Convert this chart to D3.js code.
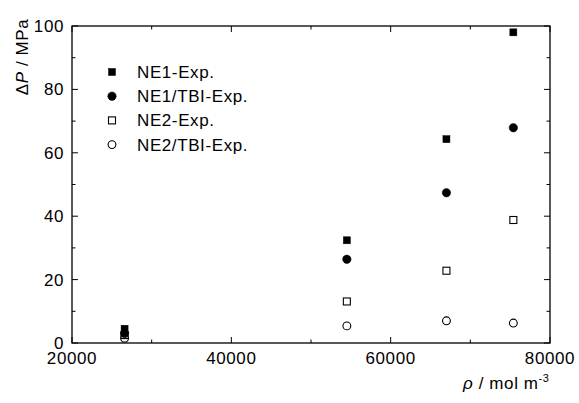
<!DOCTYPE html>
<html>
<head>
<meta charset="utf-8">
<script src="https://cdn.jsdelivr.net/npm/d3@7"></script>
<style>
  body { margin: 0; background: #fff; }
  svg { font-family: "Liberation Sans", Arial, Helvetica, sans-serif; }
</style>
</head>
<body>
<div id="chart"></div>
<script>
// density values (mol m^-3)
const densities = [26600, 54500, 67000, 75400];

// pressure difference (MPa) for each series
const ne1Exp = [4.5, 32.4, 64.3, 98.0];
const ne1TbiExp = [3.0, 26.4, 47.4, 67.9];
const ne2Exp = [2.5, 13.1, 22.8, 38.8];
const ne2TbiExp = [1.5, 5.4, 7.0, 6.3];

const seriesNames = ["NE1-Exp.", "NE1/TBI-Exp.", "NE2-Exp.", "NE2/TBI-Exp."];
const seriesValues = [ne1Exp, ne1TbiExp, ne2Exp, ne2TbiExp];
const seriesShapes = ["square", "circle", "square", "circle"];
const seriesFilled = [true, true, false, false];

const xTicks = [20000, 40000, 60000, 80000];
const yTicks = [0, 20, 40, 60, 80, 100];

const width = 579, height = 403;
const margin = { top: 26, right: 29, bottom: 60, left: 72 };
const innerW = width - margin.left - margin.right;
const innerH = height - margin.top - margin.bottom;

const svg = d3.select("#chart").append("svg")
  .attr("width", width)
  .attr("height", height);

const g = svg.append("g")
  .attr("transform", `translate(${margin.left},${margin.top})`);

const x = d3.scaleLinear().domain([20000, 80000]).range([0, innerW]);
const y = d3.scaleLinear().domain([0, 100]).range([innerH, 0]);

// frame
g.append("rect")
  .attr("width", innerW)
  .attr("height", innerH)
  .attr("fill", "none")
  .attr("stroke", "#000")
  .attr("stroke-width", 1.3);

// inward ticks, major + minor on all four sides
const xMinor = d3.range(20000, 80001, 10000);
const yMinor = d3.range(0, 101, 10);

function tickLen(isMajor) { return isMajor ? 6 : 3.5; }

xMinor.forEach(v => {
  const len = tickLen(xTicks.includes(v));
  g.append("line").attr("x1", x(v)).attr("x2", x(v)).attr("y1", innerH).attr("y2", innerH - len)
    .attr("stroke", "#000").attr("stroke-width", 1);
  g.append("line").attr("x1", x(v)).attr("x2", x(v)).attr("y1", 0).attr("y2", len)
    .attr("stroke", "#000").attr("stroke-width", 1);
});
yMinor.forEach(v => {
  const len = tickLen(yTicks.includes(v));
  g.append("line").attr("x1", 0).attr("x2", len).attr("y1", y(v)).attr("y2", y(v))
    .attr("stroke", "#000").attr("stroke-width", 1);
  g.append("line").attr("x1", innerW).attr("x2", innerW - len).attr("y1", y(v)).attr("y2", y(v))
    .attr("stroke", "#000").attr("stroke-width", 1);
});

const fs = "17px";
const ls = "0.6px";

// tick labels
g.selectAll(".xlab")
  .data(xTicks)
  .enter().append("text")
  .attr("class", "xlab")
  .attr("x", d => x(d))
  .attr("y", innerH + 21)
  .attr("text-anchor", "middle")
  .style("font-size", fs)
  .style("letter-spacing", ls)
  .text(d => d);

g.selectAll(".ylab")
  .data(yTicks)
  .enter().append("text")
  .attr("class", "ylab")
  .attr("x", -8)
  .attr("y", d => y(d) + 6)
  .attr("text-anchor", "end")
  .style("font-size", fs)
  .style("letter-spacing", ls)
  .text(d => d);

// axis titles
const yTitle = svg.append("text")
  .attr("transform", "translate(28,57) rotate(-90)")
  .attr("text-anchor", "middle")
  .style("font-size", fs)
  .style("letter-spacing", ls);
yTitle.append("tspan").text("Δ");
yTitle.append("tspan").style("font-style", "italic").text("P");
yTitle.append("tspan").text(" / MPa");

const xTitle = svg.append("text")
  .attr("x", 463)
  .attr("y", 389)
  .style("font-size", fs)
  .style("letter-spacing", ls);
xTitle.append("tspan").style("font-style", "italic").text("ρ");
xTitle.append("tspan").text(" / mol  m");
xTitle.append("tspan").attr("dy", -7).style("font-size", "11px").text("-3");

// markers
function drawMarker(sel, shape, filled) {
  if (shape === "square") {
    sel.append("rect")
      .attr("x", -3.5).attr("y", -3.5)
      .attr("width", 7).attr("height", 7)
      .attr("fill", filled ? "#000" : "#fff")
      .attr("stroke", "#000")
      .attr("stroke-width", filled ? 0.5 : 1.1);
  } else {
    sel.append("circle")
      .attr("r", filled ? 4.2 : 3.9)
      .attr("fill", filled ? "#000" : "#fff")
      .attr("stroke", "#000")
      .attr("stroke-width", filled ? 0.5 : 1.1);
  }
}

// draw from bottom series up so filled markers sit on top at the first point
const order = [3, 2, 1, 0];
order.forEach(si => {
  const pts = densities.map((d, i) => ({ x: d, y: seriesValues[si][i] }));
  pts.forEach(p => {
    const m = g.append("g").attr("transform", `translate(${x(p.x)},${y(p.y)})`);
    drawMarker(m, seriesShapes[si], seriesFilled[si]);
  });
});

// legend
const legend = svg.append("g").attr("transform", "translate(112,72)");
seriesNames.forEach((name, i) => {
  const row = legend.append("g").attr("transform", `translate(0,${i * 24.2})`);
  drawMarker(row, seriesShapes[i], seriesFilled[i]);
  row.append("text")
    .attr("x", 25)
    .attr("y", 6)
    .style("font-size", fs)
    .style("letter-spacing", ls)
    .text(name);
});
</script>
</body>
</html>
